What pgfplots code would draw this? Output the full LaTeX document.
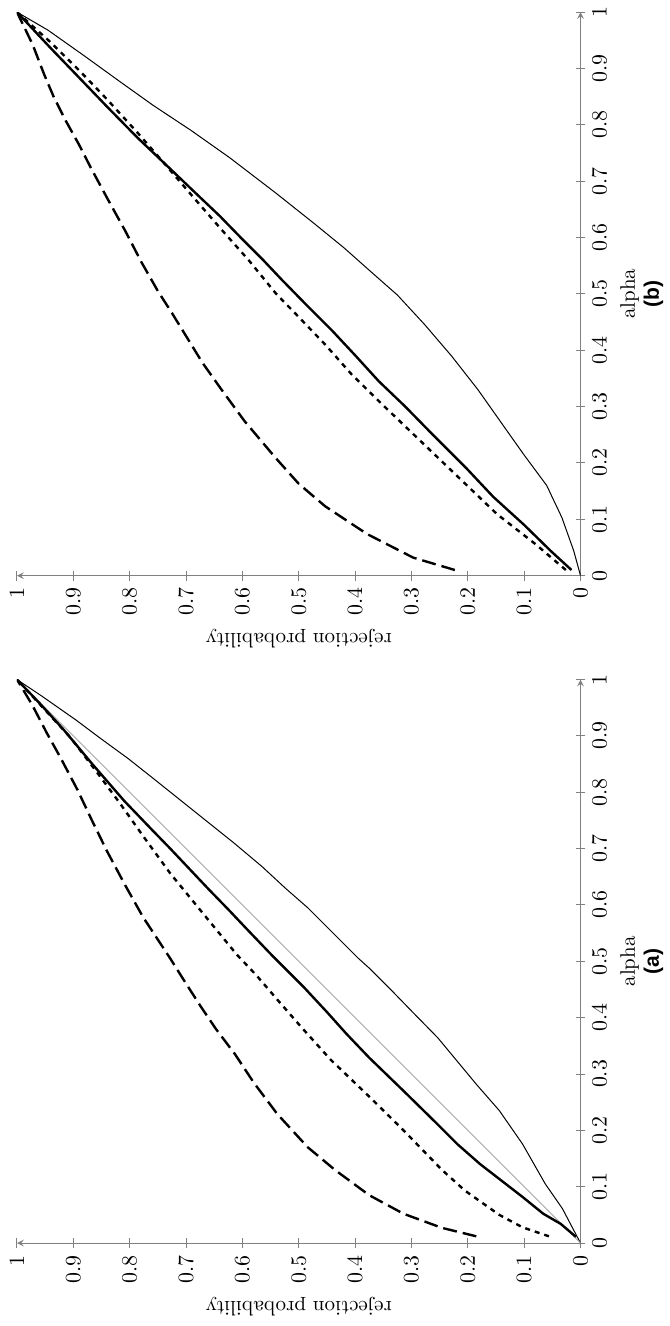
\documentclass[border=0pt]{standalone}
\usepackage{fontspec}
\newfontfamily\capfont{Liberation Sans}
\usepackage{pgfplots}
\pgfplotsset{compat=1.18}

% figure is stored rotated: x = rejection probability (reversed), y = alpha
\pgfplotsset{
  rejplot/.style={
    scale only axis, width=282pt, height=282pt,
    xmin=0, xmax=1, ymin=0, ymax=1, x dir=reverse,
    axis x line=bottom, axis y line=right,
    axis line style={gray, line width=0.5pt},
    tick style={gray, line width=0.5pt},
    tick align=center, major tick length=5pt,
    xtick={0,0.1,0.2,0.3,0.4,0.5,0.6,0.7,0.8,0.9,1},
    ytick={0,0.1,0.2,0.3,0.4,0.5,0.6,0.7,0.8,0.9,1},
    tick label style={font=\fontsize{10.5}{12}\selectfont},
    label style={font=\fontsize{10.5}{12}\selectfont},
    xticklabel style={rotate=90, anchor=east},
    yticklabel style={rotate=90, anchor=north},
    xlabel={rejection probability},
    xlabel style={rotate=180, anchor=south},
    ylabel style={anchor=north, align=center},
  },
  thinc/.style={black, line width=0.5pt},
  diagc/.style={gray!70, line width=0.45pt},
  thickc/.style={black, line width=1.2pt},
  dotc/.style={black, line width=1.2pt, dash pattern=on 2.5pt off 2.5pt},
  dashc/.style={black, line width=1.2pt, dash pattern=on 7pt off 3pt},
}

\begin{document}
\begin{tikzpicture}
% ---------- (a) ----------
\begin{axis}[rejplot, at={(0,0)}, ylabel={alpha\\{\capfont\bfseries (a)}}]
\addplot[thinc] coordinates {
 (0,0) (0.032,0.061) (0.0625,0.105) (0.103,0.176) (0.144,0.235) (0.185,0.282)
 (0.219,0.323) (0.253,0.364) (0.300,0.412) (0.334,0.447) (0.375,0.488)
 (0.395,0.506) (0.436,0.547) (0.484,0.595) (0.524,0.630) (0.565,0.668)
 (0.615,0.710) (0.660,0.746) (0.705,0.782) (0.755,0.822) (0.803,0.860)
 (0.851,0.895) (0.895,0.928) (0.955,0.970) (1,1)};
\addplot[diagc] coordinates {(0,0) (1,1)};
\addplot[thickc] coordinates {
 (0.008,0.011) (0.035,0.034) (0.066,0.052) (0.103,0.082) (0.178,0.140)
 (0.219,0.176) (0.260,0.217) (0.314,0.270) (0.375,0.329) (0.416,0.372)
 (0.450,0.410) (0.490,0.453) (0.545,0.508) (0.590,0.555) (0.625,0.592)
 (0.660,0.628) (0.694,0.664) (0.728,0.700) (0.762,0.735) (0.810,0.785)
 (0.868,0.852) (0.918,0.912) (0.959,0.957) (1,1)};
\addplot[dotc] coordinates {
 (0.056,0.012) (0.103,0.028) (0.144,0.050) (0.205,0.093) (0.246,0.130)
 (0.314,0.200) (0.375,0.260) (0.443,0.325) (0.497,0.385) (0.538,0.432)
 (0.575,0.475) (0.610,0.512) (0.674,0.590) (0.728,0.656) (0.776,0.722)
 (0.817,0.780) (0.860,0.838) (0.905,0.897) (0.952,0.948) (1,1)};
\addplot[dashc] coordinates {
 (0.185,0.012) (0.246,0.027) (0.314,0.052) (0.375,0.085) (0.436,0.130)
 (0.484,0.170) (0.538,0.229) (0.580,0.285) (0.613,0.335) (0.647,0.380)
 (0.674,0.420) (0.701,0.462) (0.728,0.505) (0.776,0.578) (0.808,0.635)
 (0.840,0.695) (0.866,0.748) (0.893,0.805) (0.922,0.860) (0.947,0.905)
 (0.973,0.955) (1,1)};
\end{axis}
% ---------- (b) ----------
\begin{axis}[rejplot, at={(0,334pt)}, ylabel={alpha\\{\capfont\bfseries (b)}}]
\addplot[thinc] coordinates {
 (0,0) (0.012,0.044) (0.033,0.103) (0.060,0.160) (0.100,0.214) (0.134,0.262)
 (0.182,0.330) (0.229,0.390) (0.277,0.446) (0.325,0.498) (0.375,0.542)
 (0.420,0.582) (0.474,0.626) (0.542,0.680) (0.623,0.742) (0.691,0.790)
 (0.759,0.835) (0.815,0.875) (0.880,0.922) (0.945,0.968) (1,1)};
\addplot[thickc] coordinates {
 (0.016,0.010) (0.053,0.044) (0.100,0.090) (0.155,0.140) (0.202,0.190)
 (0.263,0.251) (0.311,0.300) (0.358,0.345) (0.399,0.390) (0.440,0.434)
 (0.487,0.481) (0.530,0.525) (0.565,0.562) (0.603,0.600) (0.640,0.638)
 (0.680,0.676) (0.725,0.719) (0.786,0.777) (0.840,0.832) (0.890,0.884)
 (0.942,0.938) (1,1)};
\addplot[dotc] coordinates {
 (0.026,0.010) (0.080,0.056) (0.148,0.109) (0.216,0.174) (0.284,0.239)
 (0.352,0.304) (0.406,0.357) (0.453,0.410) (0.501,0.460) (0.540,0.500)
 (0.589,0.560) (0.637,0.614) (0.684,0.668) (0.739,0.732) (0.786,0.786)
 (0.840,0.845) (0.888,0.895) (0.942,0.948) (1,1)};
\addplot[dashc] coordinates {
 (0.223,0.010) (0.297,0.032) (0.379,0.074) (0.453,0.123) (0.500,0.163)
 (0.542,0.210) (0.596,0.274) (0.637,0.330) (0.671,0.378) (0.698,0.422)
 (0.725,0.466) (0.750,0.505) (0.779,0.556) (0.808,0.612) (0.840,0.670)
 (0.868,0.722) (0.890,0.765) (0.915,0.810) (0.935,0.850) (0.952,0.890)
 (0.972,0.942) (1,1)};
\end{axis}
\path (-8.5pt,-41.5pt) rectangle (323.5pt,621.5pt);
\end{tikzpicture}
\end{document}
